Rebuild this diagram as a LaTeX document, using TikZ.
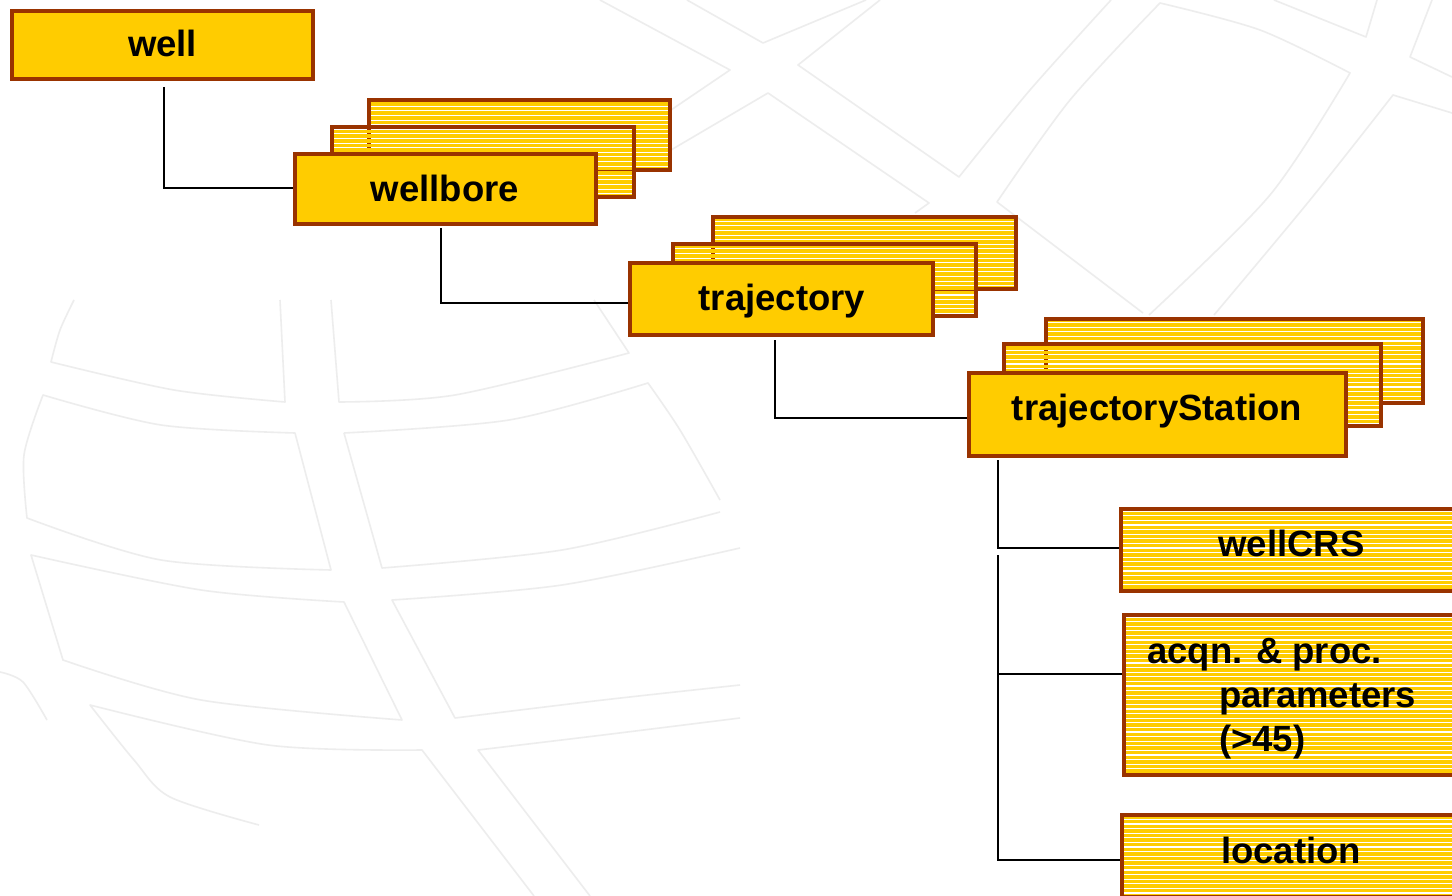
\documentclass[tikz,border=0pt]{standalone}
\usepackage{fontspec}
\setmainfont{Liberation Sans}
\usetikzlibrary{calc}
\definecolor{yel}{HTML}{FFCC00}
\definecolor{brd}{HTML}{993300}
\definecolor{globecol}{HTML}{EDEDED}
\pgfdeclarelayer{globe}
\pgfdeclarelayer{bg}
\pgfsetlayers{globe,bg,main}
\tikzset{
  frontbox/.style={draw=brd, fill=yel, line width=4pt, inner sep=0pt, outer sep=0pt, rectangle},
  holder/.style={draw=none, inner sep=0pt, outer sep=0pt, rectangle},
  lbl/.style={anchor=base, inner sep=0pt, font=\bfseries\fontsize{36.5}{44}\selectfont},
  lblw/.style={lbl, anchor=base west},
  conn/.style={draw=black, line width=1.3pt},
  globeline/.style={draw=globecol, line width=1.6pt, line join=round},
}
% striped box: name, centre, width, height
\newcommand\stripedbox[4]{%
  \node[holder, minimum width=#3pt, minimum height=#4pt] (#1) at (#2) {};
  \begin{scope}
    \clip (#1.south west) rectangle (#1.north east);
    \foreach \k in {0,...,196} {\fill[yel] (0,\k*4.6+1.1) rectangle (1470,\k*4.6+4.6);}
  \end{scope}
  \draw[brd, line width=4pt] (#1.south west) rectangle (#1.north east);
}
\newcommand\solidbox[4]{%
  \node[frontbox, minimum width=#3pt, minimum height=#4pt] (#1) at (#2) {};
}
\begin{document}
\begin{tikzpicture}[x=1pt, y=-1pt]
\useasboundingbox (0,0) rectangle (1452,896);
\begin{pgfonlayer}{globe}
  \fill[white] (0,0) rectangle (1452,896);
  % ---- faint globe grid (background) ----
  % lower left
  \draw[globeline] plot[smooth] coordinates {(74,300) (60,330) (51,362)}
     -- plot[smooth] coordinates {(51,362) (174,390) (285,402)} -- (280,300);
  \draw[globeline] (331,300) -- (339,402) -- plot[smooth] coordinates {(339,402) (455,395) (629,353)} -- (594,300);
  \draw[globeline] plot[smooth] coordinates {(43,395) (161,425) (295,433)} -- (331,570)
     -- plot[smooth] coordinates {(331,570) (161,560) (27,518)}
     -- plot[smooth] coordinates {(27,518) (24,455) (43,395)} -- cycle;
  \draw[globeline] plot[smooth] coordinates {(344,433) (509,420) (648,383)}
     -- plot[smooth] coordinates {(648,383) (680,430) (720,500)};
  \draw[globeline] (344,433) -- (382,568) -- plot[smooth] coordinates {(382,568) (562,550) (720,512)};
  \draw[globeline] plot[smooth] coordinates {(31,555) (201,590) (344,602)} -- (402,720)
     -- plot[smooth] coordinates {(402,720) (201,700) (63,660)} -- cycle;
  \draw[globeline] plot[smooth] coordinates {(740,548) (562,585) (392,600)} -- (455,718)
     -- plot[smooth] coordinates {(455,718) (603,700) (740,685)};
  \draw[globeline] (534,896) -- plot[smooth] coordinates {(422,750) (268,745) (90,705)}
     -- plot[smooth] coordinates {(90,705) (134,760) (170,797) (259,825)};
  \draw[globeline] (590,896) -- (478,750) -- plot[smooth] coordinates {(478,750) (603,735) (740,718)};
  \draw[globeline] plot[smooth] coordinates {(0,672) (23,682) (47,720)};
  % upper right
  \draw[globeline] (600,0) -- (730,70) -- (671,110);
  \draw[globeline] (687,0) -- (763,43) -- (866,0);
  \draw[globeline] (880,0) -- (798,65) -- (959,177) -- plot[smooth] coordinates {(959,177) (1030,90) (1111,0)};
  \draw[globeline] (671,150) -- (768,93) -- (929,203) -- (915,213);
  \draw[globeline] (1143,313) -- (997,202) -- plot[smooth] coordinates {(997,202) (1070,100) (1160,3)}
     -- plot[smooth] coordinates {(1160,3) (1260,30) (1350,73)}
     -- plot[smooth] coordinates {(1350,73) (1270,195) (1149,315)};
  \draw[globeline] plot[smooth] coordinates {(1214,315) (1310,200) (1393,95)} -- (1452,113);
  \draw[globeline] (1274,0) -- (1366,37) -- (1377,0);
  \draw[globeline] (1432,0) -- (1410,57) -- (1452,77);
\end{pgfonlayer}

% ---- boxes ----
\solidbox{well}{162.5,45}{301}{68}

\stripedbox{wb3}{519.5,135}{301}{70}
\stripedbox{wb2}{483,162}{302}{70}
\solidbox{wellbore}{445.5,189}{301}{70}

\stripedbox{tr3}{864.5,253}{303}{72}
\stripedbox{tr2}{824.5,280}{303}{72}
\solidbox{trajectory}{781.5,299}{303}{72}

\stripedbox{st3}{1234.5,361}{377}{84}
\stripedbox{st2}{1192.5,385}{377}{82}
\solidbox{station}{1157.5,414.5}{377}{83}

\stripedbox{wellcrs}{1291.5,550}{341}{82}
\stripedbox{acqn}{1293,695}{338}{160}
\stripedbox{location}{1292,856}{340}{82}

% ---- labels ----
\node[lbl] (t-well) at (162.5,57) {well};
\node[lbl] (t-wellbore) at (445,202) {wellbore};
\node[lbl] (t-trajectory) at (782,310) {trajectory};
\node[lbl] (t-station) at (1157,420) {trajectoryStation};
\node[lbl] (t-wellcrs) at (1291.5,556) {wellCRS};
\node[lblw] (t-acqn1) at (1147,663) {acqn. \& proc.};
\node[lblw] (t-acqn2) at (1219,707) {parameters};
\node[lblw] (t-acqn3) at (1219,751) {(>45)};
\node[lbl] (t-location) at (1291,863) {location};

% ---- connectors ----
\coordinate (trunk) at ([xshift=29pt,yshift=-4pt]station.south west);
\coordinate (trunk2) at ([yshift=-5pt]trunk |- wellcrs.west);
\begin{pgfonlayer}{bg}
  \draw[conn] ([xshift=1.5pt,yshift=-8pt]well.south) |- ([yshift=1pt]wellbore.west);
  \draw[conn] ([xshift=-4.5pt,yshift=-4pt]wellbore.south) |- ([yshift=-4pt]trajectory.west);
  \draw[conn] ([xshift=-6.5pt,yshift=-5pt]trajectory.south) |- ([yshift=-3.5pt]station.west);
  \draw[conn] (trunk) |- ([yshift=2pt]wellcrs.west);
  \draw[conn] (trunk2) |- ([yshift=21pt]acqn.west);
  \draw[conn] (trunk2) |- ([yshift=-4pt]location.west);
\end{pgfonlayer}
\end{tikzpicture}
\end{document}
